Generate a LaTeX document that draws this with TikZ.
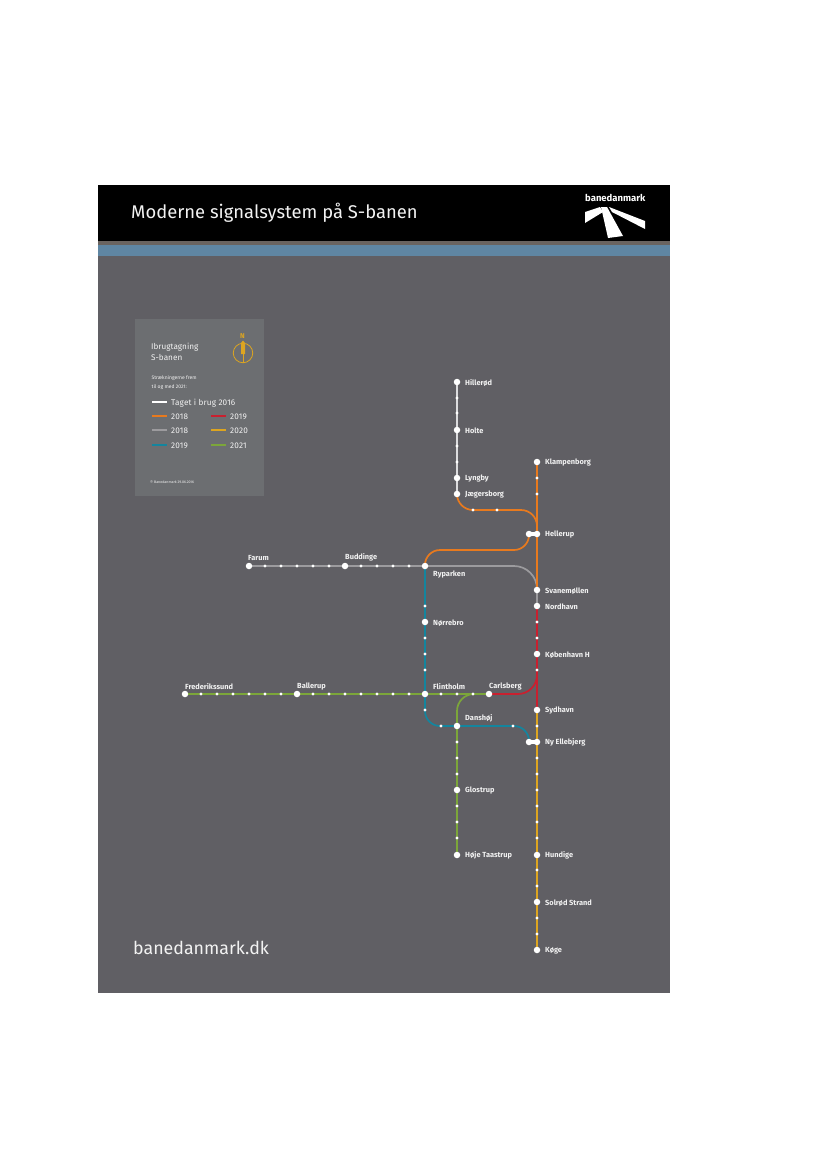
\documentclass[tikz,border=0pt]{standalone}
\usepackage{fontspec}
\setmainfont{Fira Sans}
\usetikzlibrary{backgrounds}

\definecolor{posterbg}{HTML}{605F64}
\definecolor{legendbg}{HTML}{6C6E71}
\definecolor{bandblue}{HTML}{5F86A3}
\definecolor{bandbrown}{HTML}{6A6460}
\definecolor{lineorange}{HTML}{E87A1E}
\definecolor{linegrey}{HTML}{9C9B9E}
\definecolor{linepale}{HTML}{DCDCDE}
\definecolor{lineteal}{HTML}{14859E}
\definecolor{linered}{HTML}{C9202F}
\definecolor{linegold}{HTML}{DDA520}
\definecolor{linegreen}{HTML}{7CA63A}
\definecolor{textwhite}{HTML}{F2F2F2}

\tikzset{
  station/.style={circle, fill=white, inner sep=0pt, minimum size=6.5pt},
  halt/.style={circle, fill=white, inner sep=0pt, minimum size=3.4pt},
  stationtext/.style={anchor=west, inner sep=0pt, text=textwhite, font=\fontsize{7.4}{9}\selectfont\bfseries},
  legendtext/.style={anchor=west, inner sep=0pt, text=textwhite, font=\fontsize{8.2}{10}\selectfont\addfontfeatures{LetterSpace=2}},
  legendsmall/.style={anchor=west, inner sep=0pt, text=textwhite, font=\fontsize{5}{6}\selectfont},
  trackline/.style={line width=1.7pt},
  legendline/.style={line width=1.3pt}
}

\begin{document}
\begin{tikzpicture}[x=1pt, y=-1pt]
    \useasboundingbox (0,0) rectangle (827,1169);

    % Poster background and header
    \begin{scope}[on background layer]
        \fill[white] (0,0) rectangle (827,1169);
        \fill[posterbg] (98,185) rectangle (670,993);
        \fill[black] (98,185) rectangle (670,241);
        \fill[bandbrown] (98,241) rectangle (670,245);
        \fill[bandblue] (98,245) rectangle (670,256);
        \fill[legendbg] (135,319) rectangle (264,496);
    \end{scope}

    \node[anchor=west, inner sep=0pt, text=textwhite, font=\fontsize{18.4}{22}\selectfont] (title) at (131,213) {Moderne signalsystem på S-banen};
    \node[anchor=west, inner sep=0pt, text=white, font=\fontsize{9.5}{11}\selectfont\bfseries] (brand) at (585,197.5) {banedanmark};
    \node[anchor=west, inner sep=0pt, text=textwhite, font=\fontsize{17.8}{21}\selectfont] (website) at (133,948) {banedanmark.dk};

    % Logo beams
    \fill[white] (601,207) -- (607,207) -- (623,236) -- (608,238) -- cycle;
    \fill[white] (609,207) -- (645,221) -- (645,229) -- (612,212) -- cycle;
    \fill[white] (585,212) -- (600,207) -- (603,212) -- (585,223) -- cycle;

    % Legend
    \node[legendtext, font=\fontsize{8.2}{10}\selectfont] (legendhead) at (151,347) {Ibrugtagning};
    \node[legendtext, font=\fontsize{8.2}{10}\selectfont] (legendsub) at (151,357) {S-banen};
    \node[legendsmall] (legendnoteone) at (151.5,378) {Strækningerne frem};
    \node[legendsmall] (legendnotetwo) at (151.5,387) {til og med 2021:};
    \node[legendsmall, font=\fontsize{3.6}{5}\selectfont] (legenddate) at (150,482) {© Banedanmark 29.06.2016};

    \foreach \name/\col/\x/\y/\txt in {
        taget/white/152/402/Taget i brug 2016,
        orange/lineorange/152/416/2018,
        grey/linegrey/152/430/2018,
        teal/lineteal/152/445/2019,
        red/linered/211/416/2019,
        gold/linegold/211/430/2020,
        green/linegreen/211/445/2021}
    {
        \coordinate (key\name) at (\x,\y);
        \node[legendtext] (keytext\name) at (\x+19,\y+0.8) {\txt};
        \draw[legendline, \col] (key\name) -- ++(14.5,0);
    }

    % Compass
    \node[circle, draw=linegold, line width=0.8pt, inner sep=0pt, minimum size=19.5pt] (compass) at (243,353) {};
    \node[inner sep=0pt, text=linegold, font=\fontsize{7}{8}\selectfont\bfseries] (compassn) at (242.5,336) {N};
    \fill[linegold] (241,343) -- (243,340.5) -- (245,343) -- (245,354) -- (241,354) -- cycle;
    \draw[linegold, line width=0.7pt] (compass.center) -- (compass.south);

    % Stations with their names to the right
    \foreach \name/\x/\y/\txt in {
        hillerod/457/382/Hillerød,
        holte/457/430/Holte,
        lyngby/457/478/Lyngby,
        jaegersborg/457/494/Jægersborg,
        klampenborg/537/462/Klampenborg,
        hellerup/537/534/Hellerup,
        svanemollen/537/590/Svanemøllen,
        nordhavn/537/606/Nordhavn,
        kobenhavn/537/654/København H,
        sydhavn/537/710/Sydhavn,
        ellebjerg/537/742/Ny Ellebjerg,
        hundige/537/855/Hundige,
        solrod/537/902/Solrød Strand,
        koge/537/950/Køge,
        norrebro/425/622/Nørrebro,
        glostrup/457/790/Glostrup,
        taastrup/457/855/Høje Taastrup}
    {
        \node[station] (\name) at (\x,\y) {};
        \node[stationtext] (\name text) at (\x+8,\y+0.8) {\txt};
    }

    % Stations with their names above or below
    \foreach \name/\x/\y/\tx/\ty/\txt in {
        farum/249/566/248/557.6/Farum,
        buddinge/345/566/345/557.6/Buddinge,
        ryparken/425/566/433/574.8/Ryparken,
        frederikssund/185/694/185/686.6/Frederikssund,
        ballerup/297/694/297/686.6/Ballerup,
        flintholm/425/694/433/686.6/Flintholm,
        carlsberg/489/694/489/686.6/Carlsberg,
        danshoj/457/726/465/718.6/Danshøj}
    {
        \node[station] (\name) at (\x,\y) {};
        \node[stationtext] (\name text) at (\tx,\ty) {\txt};
    }

    % Transfer stubs
    \node[station] (helleruptwo) at (529,534) {};
    \node[station] (ellebjergtwo) at (529,742) {};

    % Small halts
    \foreach \y in {398,413,446,462} \node[halt] (haltA\y) at (457,\y) {};
    \foreach \y in {478,494,622,638,670,726,758,774,790,806,822,838,870,886,918,934} \node[halt] (haltB\y) at (537,\y) {};
    \foreach \y in {606,638,654,670,710} \node[halt] (haltC\y) at (425,\y) {};
    \foreach \y in {742,758,774,806,822,838} \node[halt] (haltD\y) at (457,\y) {};
    \foreach \x in {265,281,297,313,329,361,377,393,409} \node[halt] (haltE\x) at (\x,566) {};
    \foreach \x in {201,217,233,249,265,281,313,329,345,361,377,393,409,441,457,473} \node[halt] (haltF\x) at (\x,694) {};
    \foreach \x in {473,497} \node[halt] (haltG\x) at (\x,510) {};
    \foreach \x in {441,513} \node[halt] (haltH\x) at (\x,726) {};

    % Bends
    \coordinate (bendjaeger) at (457,510);
    \coordinate (bendhellerup) at (537,510);
    \coordinate (bendlow) at (529,550);
    \coordinate (bendryparken) at (425,550);
    \coordinate (bendgrey) at (537,566);
    \coordinate (bendteala) at (425,726);
    \coordinate (bendtealb) at (529,726);
    \coordinate (bendred) at (537,694);
    \coordinate (bendgreen) at (457,694);

    % Track lines
    \begin{scope}[on background layer]
        \draw[trackline, linepale] (hillerod.center) -- (jaegersborg.center);
        \draw[trackline, lineorange, rounded corners=16pt] (jaegersborg.center) -- (bendjaeger) -- (bendhellerup) -- (hellerup.center);
        \draw[trackline, lineorange, rounded corners=15pt] (helleruptwo.center) -- (bendlow) -- (bendryparken) -- (ryparken.center);
        \draw[trackline, linegrey] (farum.center) -- (ryparken.center);
        \draw[trackline, linegrey, rounded corners=23pt] (ryparken.center) -- (bendgrey) -- (svanemollen.center);
        \draw[trackline, linegrey] (svanemollen.center) -- (nordhavn.center);
        \draw[trackline, linegrey, xshift=-1pt] (klampenborg.center) -- (svanemollen.center);
        \draw[trackline, lineorange, xshift=0.4pt] (klampenborg.center) -- (svanemollen.center);
        \draw[trackline, lineteal] (ryparken.center) -- (flintholm.center);
        \draw[trackline, lineteal, rounded corners=15pt] (flintholm.center) -- (bendteala) -- (bendtealb) -- (ellebjergtwo.center);
        \draw[trackline, linered, line width=2.4pt] (nordhavn.center) -- (sydhavn.center);
        \draw[trackline, linered, rounded corners=19pt] (carlsberg.center) -- (bendred) -- (kobenhavn.center);
        \draw[trackline, linegreen] (frederikssund.center) -- (carlsberg.center);
        \draw[trackline, linegreen, rounded corners=17pt] (haltF473) -- (bendgreen) -- (taastrup.center);
        \draw[trackline, linegrey, xshift=-1pt] (sydhavn.center) -- (koge.center);
        \draw[trackline, linegold, xshift=0.4pt] (sydhavn.center) -- (koge.center);
        \draw[line width=3.4pt, white] (helleruptwo.center) -- (hellerup.center);
        \draw[line width=3.4pt, white] (ellebjergtwo.center) -- (ellebjerg.center);
    \end{scope}
\end{tikzpicture}
\end{document}
